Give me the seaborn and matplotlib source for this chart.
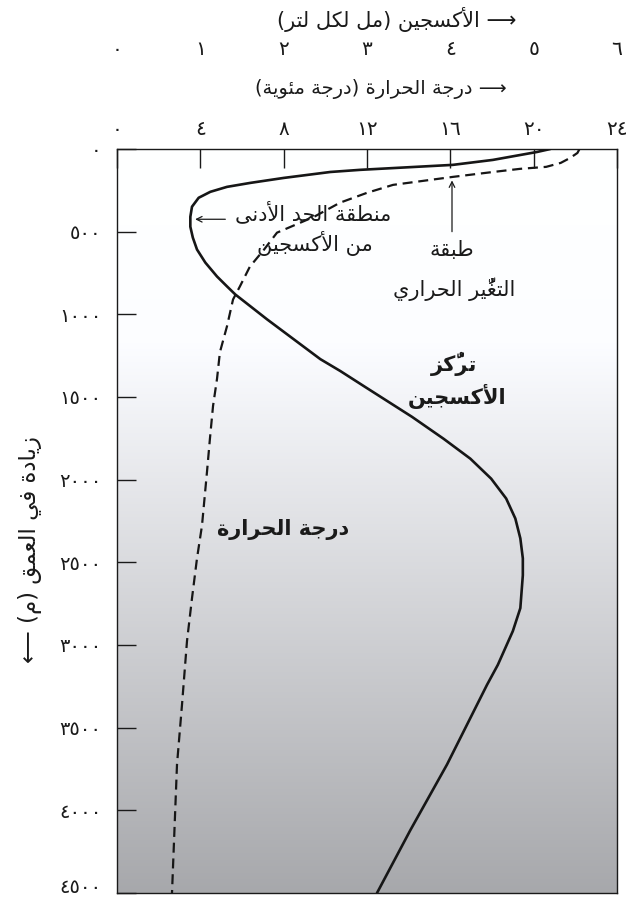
import numpy as np
import pandas as pd
import seaborn as sns
import matplotlib.pyplot as plt

# Oxygen profile (ml per litre) vs depth (m) - solid curve
oxy_depth = [0, 18, 66, 96, 126, 139, 175, 205, 229, 259, 295, 349, 410, 470, 536, 608, 687,
             771, 831, 880, 1030, 1271, 1343, 1440, 1620, 1753, 1873, 1994, 2114, 2235, 2355,
             2476, 2578, 2777, 2916, 3120, 3241, 3482, 3723, 4120, 4500]
oxy_value = [5.20, 5.04, 4.51, 4.03, 2.92, 2.56, 2.00, 1.60, 1.32, 1.12, 0.98, 0.90, 0.88, 0.88,
             0.91, 0.96, 1.06, 1.20, 1.32, 1.42, 1.80, 2.44, 2.68, 2.98, 3.54, 3.92, 4.24, 4.49,
             4.67, 4.78, 4.84, 4.87, 4.87, 4.84, 4.75, 4.57, 4.44, 4.20, 3.96, 3.52, 3.12]

# Temperature profile (deg C) vs depth (m) - dashed curve
temp_depth = [0, 24, 54, 84, 108, 120, 139, 169, 217, 265, 325, 410, 506, 608, 711, 831, 910,
              1072, 1229, 1391, 1554, 1753, 1952, 2277, 2476, 2717, 2976, 3361, 3723, 4500]
temp_value = [22.2, 22.1, 21.75, 21.3, 20.6, 19.35, 18.05, 16.1, 13.25, 12.0, 10.7, 9.46, 7.68,
              7.06, 6.38, 5.9, 5.57, 5.28, 4.94, 4.8, 4.61, 4.46, 4.32, 4.08, 3.84, 3.6, 3.36,
              3.12, 2.88, 2.64]

depth_ticks = [0, 500, 1000, 1500, 2000, 2500, 3000, 3500, 4000, 4500]
temp_ticks = [0, 4, 8, 12, 16, 20, 24]
oxy_ticks = [0, 1, 2, 3, 4, 5, 6]

# --- minimal Arabic shaping (presentation forms + right-to-left order) ---
FORMS = {'ء': (0xFE80, 1), 'آ': (0xFE81, 2), 'أ': (0xFE83, 2), 'ؤ': (0xFE85, 2), 'إ': (0xFE87, 2),
         'ئ': (0xFE89, 4), 'ا': (0xFE8D, 2), 'ب': (0xFE8F, 4), 'ة': (0xFE93, 2), 'ت': (0xFE95, 4),
         'ث': (0xFE99, 4), 'ج': (0xFE9D, 4), 'ح': (0xFEA1, 4), 'خ': (0xFEA5, 4), 'د': (0xFEA9, 2),
         'ذ': (0xFEAB, 2), 'ر': (0xFEAD, 2), 'ز': (0xFEAF, 2), 'س': (0xFEB1, 4), 'ش': (0xFEB5, 4),
         'ص': (0xFEB9, 4), 'ض': (0xFEBD, 4), 'ط': (0xFEC1, 4), 'ظ': (0xFEC5, 4), 'ع': (0xFEC9, 4),
         'غ': (0xFECD, 4), 'ف': (0xFED1, 4), 'ق': (0xFED5, 4), 'ك': (0xFED9, 4), 'ل': (0xFEDD, 4),
         'م': (0xFEE1, 4), 'ن': (0xFEE5, 4), 'ه': (0xFEE9, 4), 'و': (0xFEED, 2), 'ى': (0xFEEF, 2),
         'ي': (0xFEF1, 4)}
LAM_ALEF = {'آ': 0xFEF5, 'أ': 0xFEF7, 'إ': 0xFEF9, 'ا': 0xFEFB}
HARAKAT = set(chr(c) for c in list(range(0x064B, 0x0660)) + [0x0670])
MIRROR = {'(': ')', ')': '('}


def ar(text):
    items = []
    for ch in text:
        if ch in HARAKAT and items:
            items[-1]['mk'] += ch
        else:
            items.append({'ch': ch, 'mk': '', 'la': None})
    merged = []
    k = 0
    while k < len(items):
        it = items[k]
        if it['ch'] == 'ل' and k + 1 < len(items) and items[k + 1]['ch'] in LAM_ALEF:
            merged.append({'ch': 'ل', 'mk': it['mk'] + items[k + 1]['mk'], 'la': items[k + 1]['ch']})
            k += 2
        else:
            merged.append(it)
            k += 1

    def joins_next(it):
        return it['la'] is None and FORMS.get(it['ch'], (0, 0))[1] == 4

    def is_ar(it):
        return it['la'] is not None or it['ch'] in FORMS

    glyphs = []
    for i, it in enumerate(merged):
        prev = i > 0 and joins_next(merged[i - 1]) and is_ar(it)
        nxt = i + 1 < len(merged) and joins_next(it) and is_ar(merged[i + 1])
        if it['la']:
            g = chr(LAM_ALEF[it['la']] + (1 if prev else 0))
        elif it['ch'] in FORMS:
            base, n = FORMS[it['ch']]
            off = 0
            if n > 1:
                off = 3 if (prev and nxt) else 2 if nxt else 1 if prev else 0
            g = chr(base + off)
        else:
            g = it['ch']
        glyphs.append(g + it['mk'])

    runs = []
    for g in glyphs:
        ltr = g[0].isdigit()
        if ltr and runs and runs[-1][0]:
            runs[-1][1].append(g)
        else:
            runs.append([ltr, [g]])
    out = []
    for ltr, gs in reversed(runs):
        if ltr:
            out.extend(gs)
        else:
            out.extend(MIRROR.get(g, g) for g in reversed(gs))
    return ''.join(out)


def ar_num(v):
    return ''.join(chr(0x660 + int(c)) for c in str(v))


sns.set_style("ticks")
plt.rcParams['font.family'] = ['DejaVu Sans']
INK = '#1a1a1a'

oxy_df = pd.DataFrame({'oxygen': oxy_value, 'depth': oxy_depth})
temp_df = pd.DataFrame({'temperature': temp_value, 'depth': temp_depth})

fig = plt.figure(figsize=(6.27, 9.02), dpi=100)
ax = fig.add_axes([117 / 627, 9 / 902, 500 / 627, 744 / 902])

# background: white near surface, darkening grey with depth
grid = np.linspace(0, 4500, 300)
shade = np.interp(grid, [0, 1150, 4500], [1.0, 0.99, 0.655])
rgb = np.stack([shade, shade + 0.004, shade + 0.018], axis=1).clip(0, 1)[:, None, :]
ax.imshow(rgb, extent=(0, 24, 4500, 0), origin='upper', aspect='auto', zorder=0,
          interpolation='bilinear')

sns.lineplot(data=temp_df, x='temperature', y='depth', sort=False, estimator=None, ax=ax,
             color='#161616', linewidth=1.6, linestyle=(0, (4.5, 2.6)), zorder=3)

ax2 = ax.twiny()
sns.lineplot(data=oxy_df, x='oxygen', y='depth', sort=False, estimator=None, ax=ax2,
             color='#161616', linewidth=1.9, zorder=3)

# temperature axis (inner ticks on top)
ax.set_xlim(0, 24)
ax.set_ylim(4500, 0)
ax.xaxis.tick_top()
ax.set_xticks(temp_ticks)
ax.set_xticklabels([ar_num(v) for v in temp_ticks], fontsize=14.5)
ax.set_yticks(depth_ticks)
ax.set_yticklabels([ar_num(v) for v in depth_ticks], fontsize=14)
ax.get_yticklabels()[-1].set_va('baseline')
ax.tick_params(axis='x', direction='in', length=13.5, width=1.0, pad=7, colors=INK,
               top=True, bottom=False, labeltop=True, labelbottom=False)
ax.tick_params(axis='y', direction='in', length=13.5, width=1.0, pad=11, colors=INK)
ax.set_xlabel('')
ax.set_ylabel('')
for sp in ax.spines.values():
    sp.set_linewidth(1.0)
    sp.set_color(INK)

# oxygen axis (labels only, above temperature)
ax2.set_xlim(0, 6)
ax2.set_ylim(4500, 0)
ax2.set_xticks(oxy_ticks)
ax2.set_xticklabels([ar_num(v) for v in oxy_ticks], fontsize=14.5)
ax2.tick_params(axis='x', length=0, pad=65, colors=INK, top=True, bottom=False,
                labeltop=True, labelbottom=False)
ax2.set_xlabel('')
ax2.set_ylabel('')
for sp in ax2.spines.values():
    sp.set_visible(False)

# axis titles
fig.text(397 / 627, 1 - 19 / 902, ar('⟶ الأكسجين (مل لكل لتر)'), ha='center', va='center',
         fontsize=15, color=INK)
fig.text(381 / 627, 1 - 89 / 902, ar('⟶ درجة الحرارة (درجة مئوية)'), ha='center', va='center',
         fontsize=14, color=INK)
fig.text(30 / 627, 1 - 550 / 902, ar('زيادة في العمق (م) ⟵'), ha='center', va='center',
         rotation=90, fontsize=16.5, color=INK)

# annotations (temperature-axis coordinates)
ax.text(9.4, 386, ar('منطقة الحد الأدنى'), ha='center', va='center', fontsize=15, color=INK,
        zorder=4)
ax.text(9.5, 572, ar('من الأكسجين'), ha='center', va='center', fontsize=15, color=INK, zorder=4)
ax.annotate('', xy=(3.75, 425), xytext=(5.2, 425),
            arrowprops=dict(arrowstyle='->', lw=0.9, color=INK, shrinkA=0, shrinkB=0))
ax.text(16.08, 610, ar('طبقة'), ha='center', va='center', fontsize=15, color=INK, zorder=4)
ax.text(16.2, 849, ar('التغيُّر الحراري'), ha='center', va='center', fontsize=15, color=INK,
        zorder=4)
ax.annotate('', xy=(16.08, 190), xytext=(16.08, 500),
            arrowprops=dict(arrowstyle='->', lw=0.9, color=INK, shrinkA=0, shrinkB=0))
ax.text(16.2, 1300, ar('تركُّز'), ha='center', va='center', fontsize=15, fontweight='bold',
        color=INK, zorder=4)
ax.text(16.3, 1494, ar('الأكسجين'), ha='center', va='center', fontsize=15, fontweight='bold',
        color=INK, zorder=4)
ax.text(7.97, 2301, ar('درجة الحرارة'), ha='center', va='center', fontsize=15,
        fontweight='bold', color=INK, zorder=4)

fig.savefig('out.png', dpi=100)
